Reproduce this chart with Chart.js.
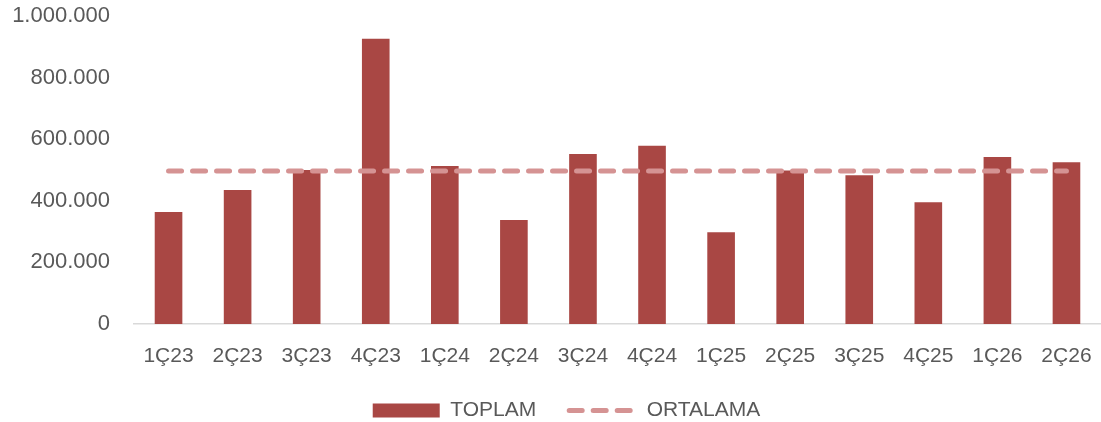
<!DOCTYPE html>
<html>
<head>
<meta charset="utf-8">
<script src="https://cdn.jsdelivr.net/npm/chart.js@4.4.1/dist/chart.umd.min.js"></script>
<style>
  html, body { margin: 0; padding: 0; background: #ffffff; }
  #wrap { width: 1101px; height: 422px; }
</style>
</head>
<body>
<div id="wrap"><canvas id="chart" width="1101" height="422"></canvas></div>
<script>
// Data
const categories = ['1Ç23', '2Ç23', '3Ç23', '4Ç23', '1Ç24', '2Ç24', '3Ç24', '4Ç24', '1Ç25', '2Ç25', '3Ç25', '4Ç25', '1Ç26', '2Ç26'];
const toplam = [364000, 435000, 500000, 926000, 513000, 338000, 552000, 579000, 298000, 498000, 483000, 395000, 542000, 525000];
const ortalama = [497000, 497000, 497000, 497000, 497000, 497000, 497000, 497000, 497000, 497000, 497000, 497000, 497000, 497000];
const yTickLabels = ['0', '200.000', '400.000', '600.000', '800.000', '1.000.000'];

const barColor = '#A94744';
const lineColor = '#D59393';
const textColor = '#595959';
const fontFamily = '"Liberation Sans", Arial, sans-serif';

// squeeze the legend box and nudge it right, like the original
const legendTweak = {
    id: 'legendTweak',
    beforeInit(chart) {
        const legend = chart.legend;
        const origFit = legend.fit;
        legend.fit = function () {
            origFit.call(this);
            this.height = 55;
        };
    },
    afterLayout(chart) {
        chart.legend.left += 16;
        chart.legend.right += 16;
    }
};

const ctx = document.getElementById('chart').getContext('2d');
const chart = new Chart(ctx, {
    type: 'bar',
    data: {
        labels: categories,
        datasets: [{
            type: 'line',
            label: 'ORTALAMA',
            data: ortalama,
            borderColor: lineColor,
            borderWidth: 5,
            borderDash: [13, 11],
            borderCapStyle: 'round',
            pointRadius: 0,
            fill: false,
            order: 0
        }, {
            label: 'TOPLAM',
            data: toplam,
            backgroundColor: barColor,
            categoryPercentage: 1,
            barPercentage: 0.4,
            order: 1
        }]
    },
    options: {
        responsive: false,
        animation: false,
        layout: { padding: { top: 16, right: 0, bottom: 0, left: 0 } },
        scales: {
            x: {
                grid: { display: false, drawTicks: false },
                border: { display: true, color: '#D9D9D9', width: 1.5 },
                ticks: {
                    color: textColor,
                    font: { family: fontFamily, size: 21 },
                    padding: 20,
                    maxRotation: 0,
                    autoSkip: false
                },
                afterFit(scale) {
                    scale.height = 43;
                    scale.paddingLeft = 0;
                    scale.paddingRight = 0;
                }
            },
            y: {
                min: 0,
                max: 1000000,
                grid: { display: false, drawTicks: false },
                border: { display: false },
                ticks: {
                    stepSize: 200000,
                    color: textColor,
                    font: { family: fontFamily, size: 22 },
                    padding: 24,
                    callback: (v, i) => yTickLabels[i]
                },
                afterFit(scale) {
                    scale.width = 134;
                    scale.paddingTop = 0;
                    scale.paddingBottom = 0;
                }
            }
        },
        plugins: {
            tooltip: { enabled: false },
            legend: {
                position: 'bottom',
                labels: {
                    color: textColor,
                    font: { family: fontFamily, size: 21 },
                    usePointStyle: true,
                    pointStyleWidth: 67,
                    boxHeight: 14,
                    padding: 33,
                    generateLabels: () => [{
                        text: 'TOPLAM',
                        fillStyle: barColor,
                        strokeStyle: barColor,
                        lineWidth: 0,
                        pointStyle: 'rect',
                        fontColor: textColor,
                        datasetIndex: 1
                    }, {
                        text: 'ORTALAMA',
                        fillStyle: 'rgba(0,0,0,0)',
                        strokeStyle: lineColor,
                        lineWidth: 5,
                        lineDash: [13, 11],
                        lineCap: 'round',
                        pointStyle: 'line',
                        fontColor: textColor,
                        datasetIndex: 0
                    }]
                }
            }
        }
    },
    plugins: [legendTweak]
});
</script>
</body>
</html>
